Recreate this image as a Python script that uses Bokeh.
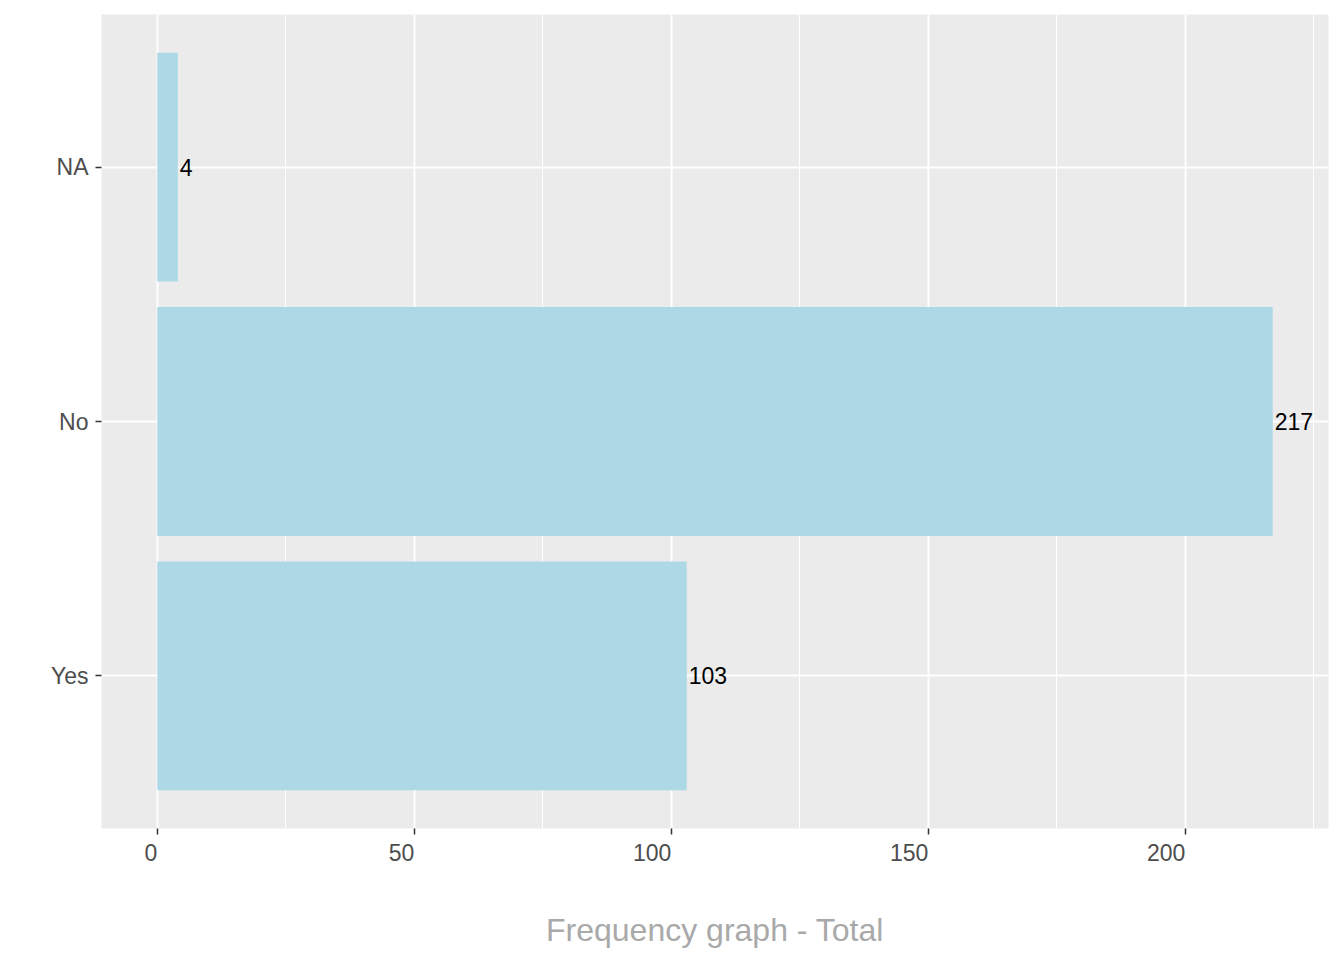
from bokeh.plotting import figure
from bokeh.models import FactorRange, FixedTicker, ColumnDataSource
from bokeh.core.properties import value
from bokeh.embed import file_html
from bokeh.resources import INLINE

categories = ["Yes", "No", "NA"]
counts = [103, 217, 4]
x_ticks = [0, 50, 100, 150, 200]
x_minor = [25, 75, 125, 175, 225]
x_tick_labels = ["0", "50", "100", "150", "200"]
x_title = "Frequency graph - Total"

FONT = "Liberation Sans"

src = ColumnDataSource(dict(cat=categories, n=counts, lab=[str(c) for c in counts]))

yr = FactorRange(factors=categories, range_padding=0.1, range_padding_units="absolute")
p = figure(width=1336, height=952, y_range=yr, x_range=(-10.85, 227.85),
           output_backend="svg", toolbar_location=None,
           min_border_left=101, min_border_right=8, min_border_top=14, min_border_bottom=124)

p.background_fill_color = "#EBEBEB"
p.border_fill_color = "white"
p.outline_line_color = None

p.hbar(y="cat", right="n", left=0, height=0.9, source=src,
       fill_color="#ADD8E6", line_color=None)
p.text(x="n", y="cat", text="lab", source=src, x_offset=2,
       text_align="left", text_baseline="middle",
       text_font=value(FONT), text_font_size="23px", text_color="black")

p.xaxis.ticker = FixedTicker(ticks=x_ticks, minor_ticks=x_minor)
# labels end at their tick, as in the reference: pad with figure spaces (digit width)
p.xaxis.major_label_overrides = {t: lab + "\u2007" * len(lab) for t, lab in zip(x_ticks, x_tick_labels)}
p.xaxis.axis_label = x_title
for ax in (p.xaxis[0], p.yaxis[0]):
    ax.axis_line_color = None
    ax.major_tick_line_color = "#333333"
    ax.major_tick_line_width = 1.5
    ax.major_tick_out = 6
    ax.major_tick_in = 0
    ax.minor_tick_line_color = None
    ax.major_label_text_font = FONT
    ax.major_label_text_font_size = "23px"
    ax.major_label_text_color = "#4D4D4D"
p.xaxis.major_label_standoff = 5
p.yaxis.major_label_standoff = 7
p.xaxis.axis_label_text_font = FONT
p.xaxis.axis_label_text_font_size = "32px"
p.xaxis.axis_label_text_font_style = "normal"
p.xaxis.axis_label_text_color = "#A9A9A9"
p.xaxis.axis_label_standoff = 43

p.xgrid.grid_line_color = "white"
p.xgrid.grid_line_width = 2
p.xgrid.minor_grid_line_color = "white"
p.xgrid.minor_grid_line_width = 1
p.ygrid.grid_line_color = "white"
p.ygrid.grid_line_width = 2

open("out.html", "w").write(file_html(p, INLINE))
